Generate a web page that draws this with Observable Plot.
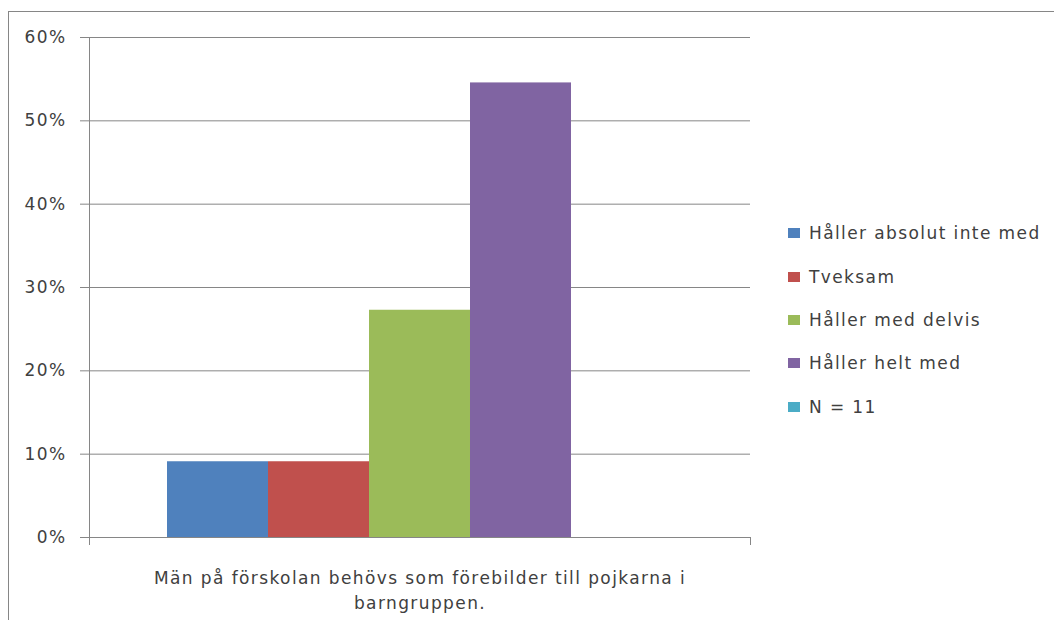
<!DOCTYPE html>
<html>
<head>
<meta charset="utf-8">
<script src="https://cdn.jsdelivr.net/npm/d3@7"></script>
<script src="https://cdn.jsdelivr.net/npm/@observablehq/plot@0.6"></script>
<style>
  html, body { margin: 0; padding: 0; background: #fff; }
  #wrap { position: relative; width: 1054px; height: 620px; overflow: hidden; font-family: "DejaVu Sans", sans-serif; color: #404040; }
  #border { position: absolute; left: 8px; top: 11px; width: 1100px; height: 700px; border: 1px solid #868686; box-sizing: border-box; }
  #chart { position: absolute; left: 0; top: 0; }
  #chart svg text { letter-spacing: 1.4px; }
  #legend { position: absolute; left: 788px; top: 0; font-size: 17px; letter-spacing: 1.4px; }
  .item { position: absolute; left: 0; white-space: nowrap; display: flex; align-items: center; height: 24px; }
  .sw { width: 12px; height: 10px; margin-right: 9px; }
</style>
</head>
<body>
<div id="wrap">
  <div id="border"></div>
  <div id="chart"></div>
  <div id="legend"></div>
</div>
<script>
const categories = ["Män på förskolan behövs som förebilder till pojkarna i barngruppen."];
const series = ["Håller absolut inte med", "Tveksam", "Håller med delvis", "Håller helt med", "N = 11"];
const values = [0.0909, 0.0909, 0.2727, 0.5455, 0];
const colors = ["#4F81BD", "#C0504D", "#9BBB59", "#8064A2", "#4BACC6"];
const yTicks = [0, 0.1, 0.2, 0.3, 0.4, 0.5, 0.6];

const data = series.map((s, i) => ({category: categories[0], series: s, value: values[i]}));
const axisColor = "#868686";

const endTicks = (index, scales, vals, dims) => {
  const g = d3.create("svg:g").attr("stroke", axisColor);
  const y = dims.height - dims.marginBottom;
  for (const x of [dims.marginLeft, dims.width - dims.marginRight]) {
    g.append("line").attr("x1", x + 0.5).attr("x2", x + 0.5).attr("y1", y).attr("y2", y + 8);
  }
  return g.node();
};

const chart = Plot.plot({
  width: 1054,
  height: 620,
  marginLeft: 89,
  marginRight: 304,
  marginTop: 37,
  marginBottom: 83,
  style: {fontFamily: "'DejaVu Sans', sans-serif", fontSize: "17px", color: "#404040", background: "transparent"},
  fx: {domain: categories, padding: 0, label: null, axis: null},
  x: {domain: series, paddingInner: 0, paddingOuter: 0.75, axis: null},
  y: {domain: [0, 0.6], label: null},
  color: {domain: series, range: colors},
  marks: [
    Plot.gridY(yTicks, {stroke: axisColor, strokeOpacity: 1}),
    Plot.barY(data, {fx: "category", x: "series", y: "value", fill: "series"}),
    Plot.axisY(yTicks, {tickSize: 9, tickPadding: 14, stroke: axisColor, fill: "#404040", tickFormat: d => Math.round(d * 100) + "%", label: null}),
    Plot.axisFx({anchor: "bottom", tickSize: 0, tickPadding: 29, lineWidth: 29, lineHeight: 1.45, fill: "#404040", label: null}),
    Plot.frame({anchor: "left", stroke: axisColor}),
    Plot.frame({anchor: "bottom", stroke: axisColor}),
    endTicks
  ]
});
document.getElementById("chart").append(chart);

const legendCenters = [233, 277, 320, 363, 407];
const legend = document.getElementById("legend");
series.forEach((s, i) => {
  const item = document.createElement("div");
  item.className = "item";
  item.style.top = (legendCenters[i] - 12) + "px";
  const sw = document.createElement("span");
  sw.className = "sw";
  sw.style.background = colors[i];
  const t = document.createElement("span");
  t.textContent = s;
  item.append(sw, t);
  legend.append(item);
});
</script>
</body>
</html>
